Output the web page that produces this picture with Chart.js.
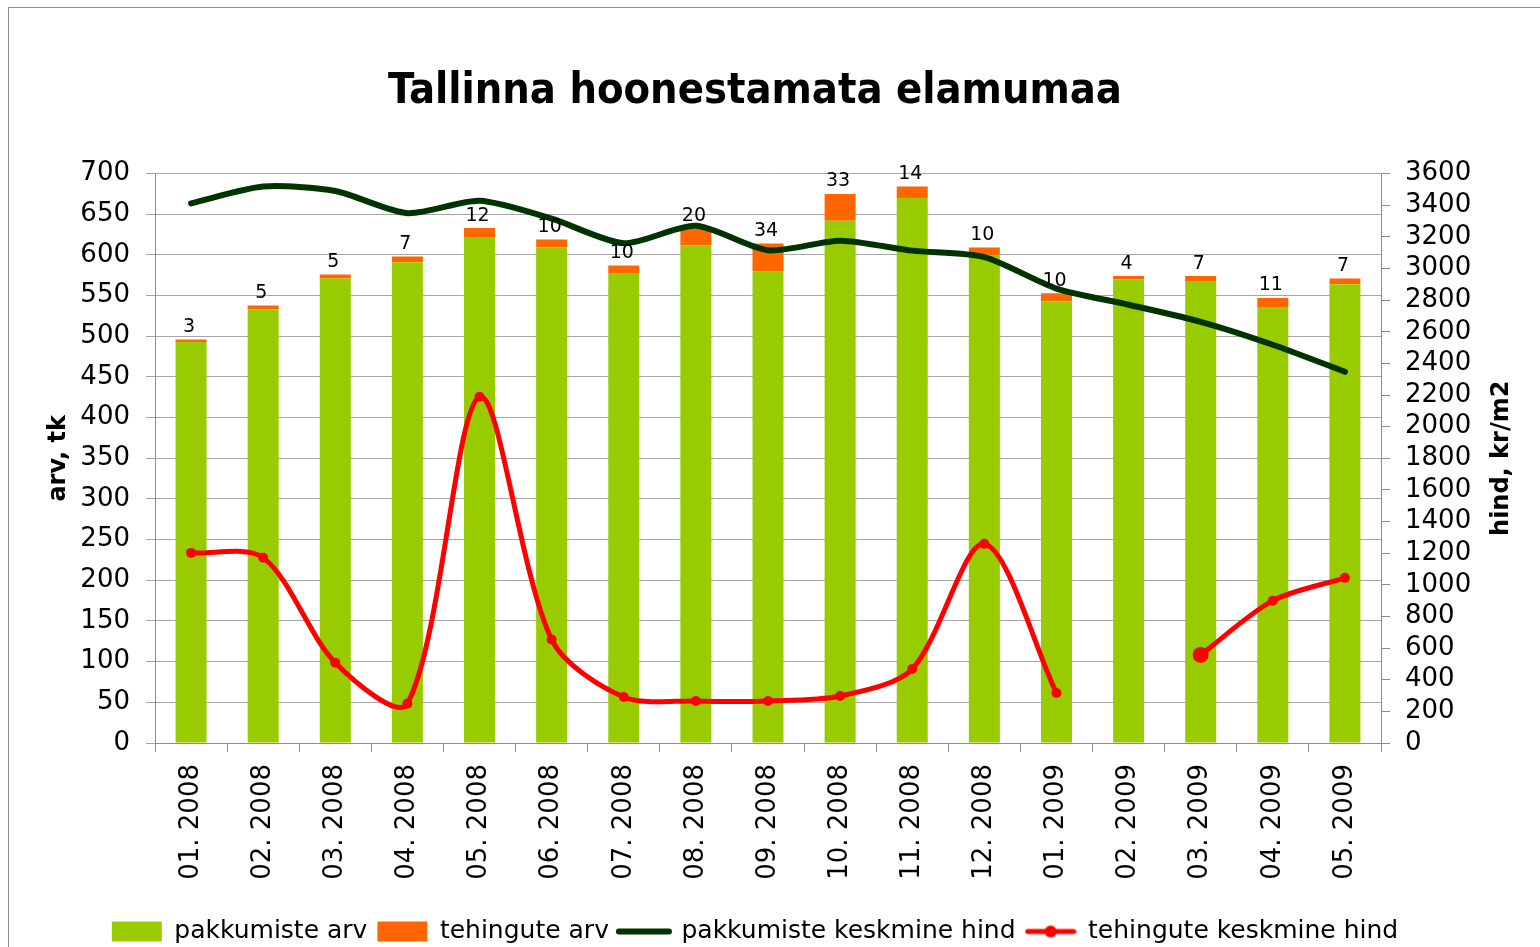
<!DOCTYPE html>
<html>
<head>
<meta charset="utf-8">
<script src="https://cdn.jsdelivr.net/npm/chart.js@4.4.0/dist/chart.umd.min.js"></script>
<style>
  html, body { margin: 0; padding: 0; background: #fff; overflow: hidden; }
  #frame { position: absolute; left: 8px; top: 7px; width: 1600px; height: 1000px; border: 1px solid #8e8e8e; }
  #wrap { position: absolute; left: 0; top: 0; width: 1540px; height: 975px; }
</style>
</head>
<body>
<div id="frame"></div>
<div id="wrap"><canvas id="chart"></canvas></div>
<script>
const chartTitle = 'Tallinna hoonestamata elamumaa';
const leftTitle = 'arv, tk';
const rightTitle = 'hind, kr/m2';

const months = ['01. 2008', '02. 2008', '03. 2008', '04. 2008', '05. 2008', '06. 2008',
  '07. 2008', '08. 2008', '09. 2008', '10. 2008', '11. 2008', '12. 2008',
  '01. 2009', '02. 2009', '03. 2009', '04. 2009', '05. 2009'];

// pakkumiste arv (green part of the bar)
const offers = [493, 533, 571, 591, 621, 609, 577, 612, 580, 642, 670, 599, 543, 570, 567, 536, 564];
// tehingute arv (orange part, also the labels above the bars)
const deals = [3, 5, 5, 7, 12, 10, 10, 20, 34, 33, 14, 10, 10, 4, 7, 11, 7];
// pakkumiste keskmine hind, kr/m2
const offerPrice = [3412, 3518, 3490, 3350, 3428, 3315, 3160, 3270, 3115, 3176, 3113, 3072, 2873, 2771, 2663, 2518, 2347];
// tehingute keskmine hind, kr/m2 (no value for 02. 2009)
const dealPrice = [1202, 1172, 508, 249, 2189, 654, 291, 266, 266, 297, 468, 1259, 316, null, 557, 900, 1044];

const GREEN = '#99cc00';
const ORANGE = '#ff6600';
const DARK = '#003300';
const RED = '#ff0000';

Chart.defaults.font.family = "'DejaVu Sans', sans-serif";
Chart.defaults.color = '#000';

// legend icon for the red line: line with a dot in the middle
const redIcon = document.createElement('canvas');
redIcon.width = 52; redIcon.height = 16;
(function () {
  const c = redIcon.getContext('2d');
  c.strokeStyle = RED; c.lineWidth = 5; c.lineCap = 'round';
  c.beginPath(); c.moveTo(3, 8); c.lineTo(49, 8); c.stroke();
  c.fillStyle = RED;
  c.beginPath(); c.arc(26, 8, 6, 0, Math.PI * 2); c.fill();
})();

const barLabels = {
  id: 'barLabels',
  afterDatasetsDraw(chart) {
    const ctx = chart.ctx;
    const meta = chart.getDatasetMeta(1);
    ctx.save();
    ctx.font = "19px 'DejaVu Sans'";
    ctx.fillStyle = '#000';
    ctx.textAlign = 'center';
    ctx.textBaseline = 'bottom';
    meta.data.forEach((bar, i) => ctx.fillText(String(deals[i]), bar.x - 2, bar.y - 3));
    ctx.restore();
  }
};

const rightAxisTitle = {
  id: 'rightAxisTitle',
  afterDraw(chart) {
    const {ctx, chartArea, scales} = chart;
    ctx.save();
    ctx.translate(scales.y1.left + 121, (chartArea.top + chartArea.bottom) / 2);
    ctx.rotate(-Math.PI / 2);
    ctx.font = "bold 24px 'DejaVu Sans'";
    ctx.fillStyle = '#000';
    ctx.textAlign = 'center';
    ctx.textBaseline = 'middle';
    ctx.fillText(rightTitle, 0, 0);
    ctx.restore();
  }
};

new Chart(document.getElementById('chart'), {
  type: 'bar',
  data: {
    labels: months,
    datasets: [
      { label: 'pakkumiste arv', data: offers, backgroundColor: GREEN, yAxisID: 'y', order: 3,
        barPercentage: 0.43, categoryPercentage: 1 },
      { label: 'tehingute arv', data: deals, backgroundColor: ORANGE, yAxisID: 'y', order: 3,
        barPercentage: 0.43, categoryPercentage: 1 },
      { type: 'line', label: 'pakkumiste keskmine hind', data: offerPrice, yAxisID: 'y1', order: 2,
        borderColor: DARK, backgroundColor: DARK, borderWidth: 6, pointRadius: 0, tension: 0.25,
        borderCapStyle: 'round', borderJoinStyle: 'round' },
      { type: 'line', label: 'tehingute keskmine hind', data: dealPrice, yAxisID: 'y1', order: 1,
        borderColor: RED, backgroundColor: RED, borderWidth: 5, tension: 0.3, spanGaps: false,
        borderCapStyle: 'round', borderJoinStyle: 'round',
        pointBorderWidth: 0, pointBackgroundColor: RED,
        pointRadius: c => (c.dataIndex > 0 && dealPrice[c.dataIndex - 1] == null) ? 8 : 5 }
    ]
  },
  options: {
    responsive: true,
    maintainAspectRatio: false,
    animation: false,
    layout: { padding: { left: 0, right: 30, top: 0, bottom: 21 } },
    plugins: {
      tooltip: { enabled: false },
      title: {
        display: true, text: chartTitle, color: '#000',
        font: { family: "'DejaVu Sans Condensed', 'Liberation Sans Narrow', 'DejaVu Sans', sans-serif", size: 43, weight: 'bold' },
        padding: { top: 66, bottom: 56 }
      },
      legend: {
        position: 'bottom',
        labels: {
          usePointStyle: true, pointStyleWidth: 50, boxHeight: 20, padding: 10,
          font: { size: 25 }, color: '#000',
          sort: (a, b) => a.datasetIndex - b.datasetIndex,
          generateLabels(chart) {
            const items = Chart.defaults.plugins.legend.labels.generateLabels(chart);
            items.forEach(it => {
              const ds = chart.data.datasets[it.datasetIndex];
              if (ds.type === 'line') {
                it.pointStyle = it.datasetIndex === 3 ? redIcon : 'line';
                it.strokeStyle = ds.borderColor;
                it.lineWidth = ds.borderWidth;
                it.lineCap = 'round';
              } else {
                it.pointStyle = 'rect';
                it.lineWidth = 0;
              }
            });
            return items;
          }
        }
      }
    },
    scales: {
      x: {
        stacked: true,
        grid: { offset: true, drawOnChartArea: false, tickLength: 9, color: '#8c8c8c' },
        border: { color: '#8c8c8c' },
        ticks: { autoSkip: false, minRotation: 90, maxRotation: 90, padding: 12, font: { size: 26 }, color: '#000' },
        afterFit(s) { s.height = 166; }
      },
      y: {
        stacked: true, min: 0, max: 700,
        ticks: { stepSize: 50, padding: 16, font: { size: 26 }, color: '#000', autoSkip: false },
        grid: { color: '#a6a6a6', tickLength: 9 },
        border: { color: '#8c8c8c' },
        title: { display: true, text: leftTitle, color: '#000', font: { size: 24, weight: 'bold' }, padding: { top: 44, bottom: 0 } },
        afterFit(s) { s.width = 155; }
      },
      y1: {
        position: 'right', min: 0, max: 3600,
        ticks: { stepSize: 200, padding: 15, font: { size: 26 }, color: '#000', autoSkip: false,
          callback: v => String(v) },
        grid: { drawOnChartArea: false, tickLength: 9, color: '#8c8c8c' },
        border: { color: '#8c8c8c' },
        afterFit(s) { s.width = 129; }
      }
    }
  },
  plugins: [barLabels, rightAxisTitle]
});
</script>
</body>
</html>
